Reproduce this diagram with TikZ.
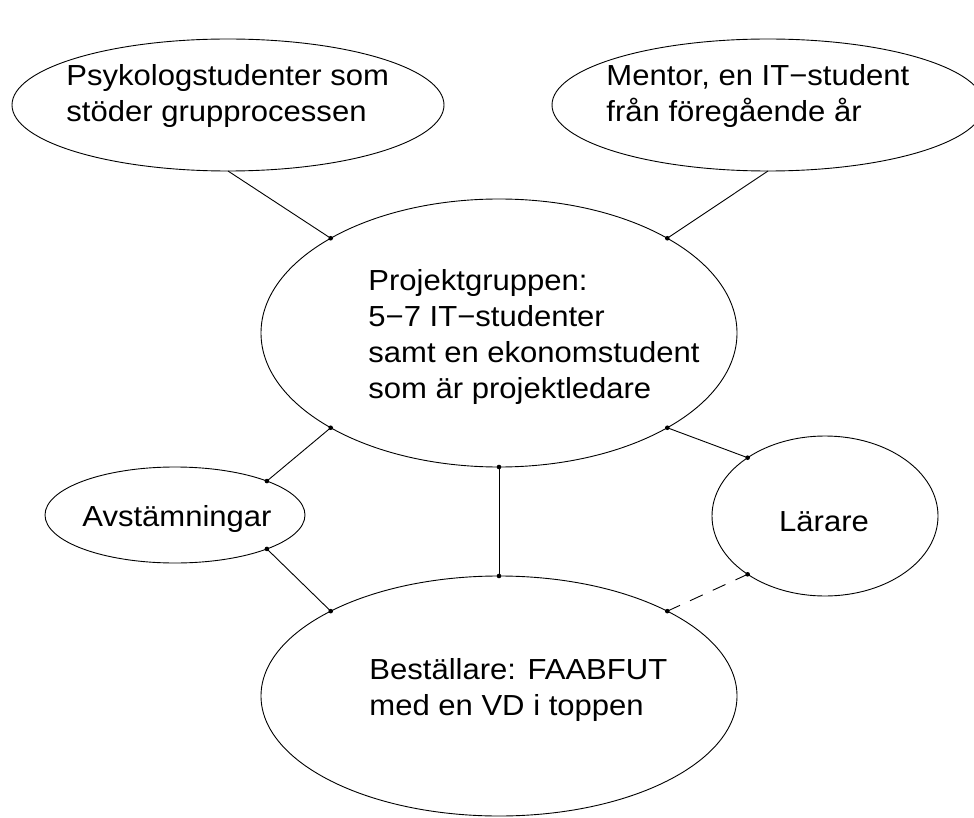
\documentclass[tikz,border=0pt]{standalone}
\usepackage{fontspec}
\setmainfont{Liberation Sans}[FakeStretch=1.07]
\usetikzlibrary{shapes.geometric}

\begin{document}
\begin{tikzpicture}[x=1pt, y=-1pt, line width=0.9pt,
    blob/.style={ellipse, draw, inner sep=0pt, outer sep=0pt},
    txt/.style={align=left, font=\fontsize{29}{36}\selectfont, inner sep=0pt}]
  \useasboundingbox (0,0) rectangle (974,818);

  \node (psy) at (228, 105) [blob, minimum width=432, minimum height=132] {};
  \node (mentor) at (768, 105) [blob, minimum width=432, minimum height=132] {};
  \node (grupp) at (499, 333) [blob, minimum width=476, minimum height=268] {};
  \node (avst) at (175, 515) [blob, minimum width=260, minimum height=96] {};
  \node (larare) at (825, 516) [blob, minimum width=226, minimum height=160] {};
  \node (best) at (499, 696) [blob, minimum width=476, minimum height=240] {};

  \node (psytext) at (66, 122) [txt, anchor=base west] {Psykologstudenter som\\stöder grupprocessen};
  \node (mentortext) at (606, 122) [txt, anchor=base west] {Mentor, en IT−student\\från föregående år};
  \node (grupptext) at (368, 398) [txt, anchor=base west] {Projektgruppen:\\5−7 IT−studenter\\samt en ekonomstudent\\som är projektledare};
  \node (avsttext) at (177, 526) [txt, anchor=base] {Avstämningar};
  \node (laretext) at (824, 531) [txt, anchor=base] {Lärare};
  \node (besttext) at (369, 715) [txt, anchor=base west] {Beställare: FAABFUT\\med en VD i toppen};

  \draw (psy.south) to (grupp.north west);
  \draw (mentor.south) to (grupp.north east);
  \draw (grupp.south west) to (avst.north east);
  \draw (grupp.south east) to (larare.143);
  \draw (grupp.south) to (best.north);
  \draw (avst.south east) to (best.north west);
  \draw[dash pattern=on 14pt off 11pt] (best.north east) to (larare.217);

  % dots where the lines meet the ellipses
  \foreach \p in {grupp.north west, grupp.north east, grupp.south west, grupp.south east,
                  grupp.south, best.north, best.north west, best.north east,
                  avst.north east, avst.south east, larare.143, larare.217}
    \fill (\p) circle[radius=2.3pt];
\end{tikzpicture}
\end{document}
